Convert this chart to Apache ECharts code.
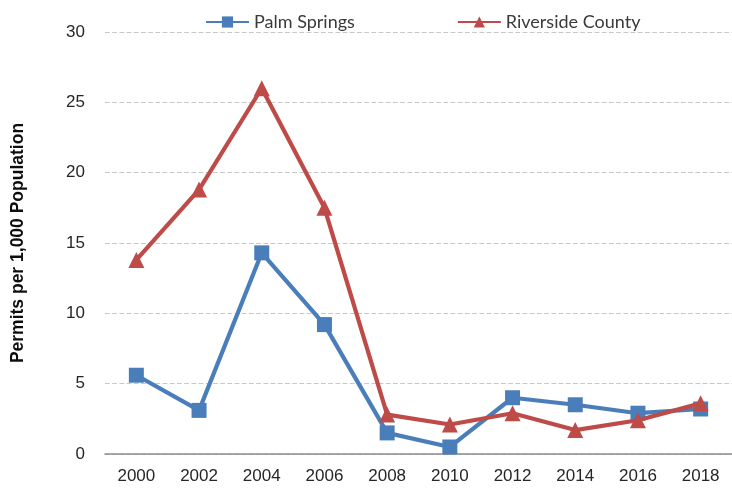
<!DOCTYPE html>
<html>
<head>
<meta charset="utf-8">
<script src="https://cdn.jsdelivr.net/npm/echarts@6/dist/echarts.min.js"></script>
<style>
  html, body { margin: 0; padding: 0; background: #fff; }
  #chart { width: 732px; height: 496px; }
</style>
</head>
<body>
<div id="chart"></div>
<script>
// Residential building permits per 1,000 population
const years = ['2000', '2002', '2004', '2006', '2008', '2010', '2012', '2014', '2016', '2018'];
const palmSprings = [5.6, 3.1, 14.3, 9.2, 1.5, 0.5, 4.0, 3.5, 2.9, 3.2];
const riverside = [13.8, 18.8, 26.0, 17.5, 2.8, 2.1, 2.9, 1.7, 2.4, 3.6];
const yTicks = { min: 0, max: 30, interval: 5 };

const narrow = '"Liberation Sans Narrow", "Liberation Sans", Arial, sans-serif';
const chart = echarts.init(document.getElementById('chart'));

chart.setOption({
  animation: false,
  backgroundColor: '#ffffff',
  legend: {
    top: 8,
    left: 200,
    itemWidth: 43,
    itemHeight: 14,
    itemGap: 102,
    textStyle: { fontFamily: 'Lato, "Open Sans", sans-serif', fontSize: 18, color: '#3a3a3a' },
    data: ['Palm Springs', 'Riverside County']
  },
  grid: { left: 105, right: -7, top: 32, bottom: 42 },
  xAxis: {
    type: 'category',
    data: years,
    boundaryGap: true,
    axisLine: { lineStyle: { color: '#8c8c8c', width: 1.5 } },
    axisTick: { show: false },
    axisLabel: { fontFamily: narrow, fontSize: 17, color: '#262626', margin: 14 }
  },
  yAxis: {
    type: 'value',
    min: yTicks.min,
    max: yTicks.max,
    interval: yTicks.interval,
    name: 'Permits per 1,000 Population',
    nameLocation: 'middle',
    nameRotate: 90,
    nameGap: 78,
    nameTextStyle: { fontFamily: narrow, fontSize: 17.5, fontWeight: 'bold', color: '#0d0d0d' },
    axisLine: { show: false },
    axisTick: { show: false },
    axisLabel: { fontFamily: narrow, fontSize: 17, color: '#262626', margin: 20 },
    splitLine: { lineStyle: { color: '#c8c8c8', type: 'dashed', width: 1.2 } }
  },
  series: [
    {
      name: 'Palm Springs',
      type: 'line',
      data: palmSprings,
      symbol: 'rect',
      symbolSize: 15,
      itemStyle: { color: '#4a7ebb' },
      lineStyle: { color: '#4a7ebb', width: 4.2 },
      z: 2
    },
    {
      name: 'Riverside County',
      type: 'line',
      data: riverside,
      symbol: 'triangle',
      symbolSize: 16,
      itemStyle: { color: '#be4b48' },
      lineStyle: { color: '#be4b48', width: 4.2 },
      z: 3
    }
  ]
});
</script>
</body>
</html>
